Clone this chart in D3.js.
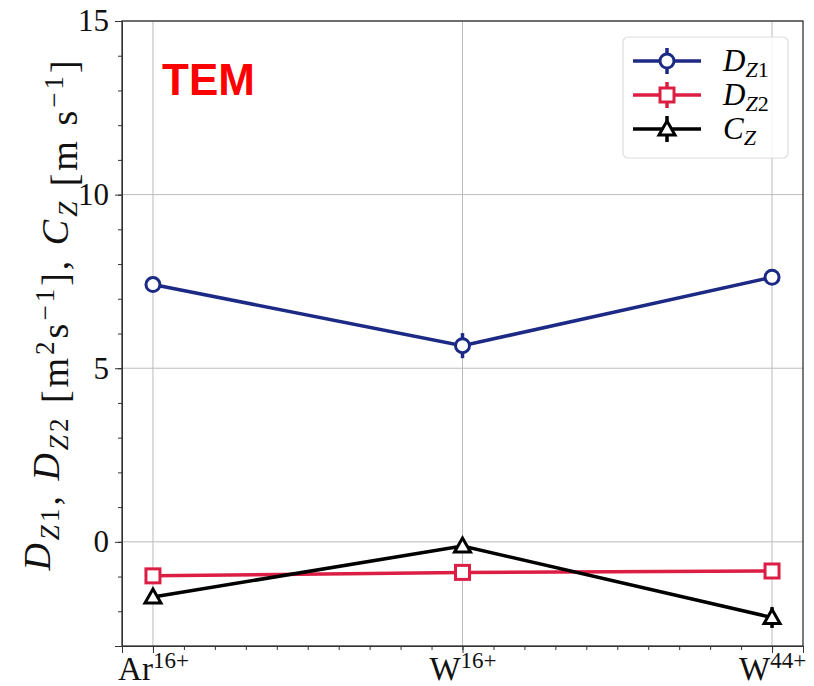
<!DOCTYPE html>
<meta charset="utf-8">
<style>
body { margin: 0; background: #fff; }
.axis path, .axis line { stroke: #333; }
.axis text { font-family: "Liberation Serif", serif; font-size: 31px; fill: #111; }
.grid line { stroke: #bbb; stroke-width: 1; }
</style>
<div id="chart"></div>
<script src="https://d3js.org/d3.v7.min.js"></script>
<script>

// ions on the x axis, with superscript charge
var ions = ["Ar", "W", "W"];
var charges = ["16+", "16+", "44+"];

var dz1 = [7.41, 5.65, 7.62];
var dz1Err = [0.15, 0.36, 0.15];
var dz2 = [-0.98, -0.88, -0.84];
var dz2Err = [0.1, 0.1, 0.1];
var cz = [-1.59, -0.12, -2.18];
var czErr = [0.2, 0.15, 0.3];

var yTicks = [0, 5, 10, 15];

var svg = d3.select("#chart").append("svg")
    .attr("width", 814)
    .attr("height", 686),
    margin = {top: 21, right: 11, bottom: 40, left: 122},
    width = 814 - margin.left - margin.right,
    height = 686 - margin.top - margin.bottom,
    g = svg.append("g").attr("transform", "translate(" + margin.left + "," + margin.top + ")");

var x = d3.scaleLinear().domain([-0.1, 2.1]).range([0, width]);
var y = d3.scaleLinear().domain([-3, 15]).range([height, 0]);

// grid
g.append("g").attr("class", "grid")
  .selectAll("line").data(d3.range(ions.length)).enter().append("line")
    .attr("x1", function(d) { return x(d); }).attr("x2", function(d) { return x(d); })
    .attr("y1", 0).attr("y2", height);
g.append("g").attr("class", "grid")
  .selectAll("line").data(yTicks).enter().append("line")
    .attr("y1", function(d) { return y(d); }).attr("y2", function(d) { return y(d); })
    .attr("x1", 0).attr("x2", width);

// minor ticks
g.append("g").attr("class", "axis")
    .attr("transform", "translate(0," + height + ")")
    .call(d3.axisBottom(x).tickValues(d3.range(-1, 22).map(function(i) { return i / 10; })).tickSize(4).tickFormat(""))
    .select(".domain").remove();
g.append("g").attr("class", "axis")
    .call(d3.axisLeft(y).tickValues(d3.range(-3, 16)).tickSize(4).tickFormat(""))
    .select(".domain").remove();

// major x axis
var xAxis = g.append("g").attr("class", "axis")
    .attr("transform", "translate(0," + height + ")")
    .call(d3.axisBottom(x).tickValues(d3.range(ions.length)).tickSize(7).tickFormat(""));
xAxis.selectAll(".tick").append("text")
    .attr("y", 34)
    .attr("text-anchor", "middle")
    .style("font-size", "33px")
    .each(function(d) {
      var t = d3.select(this);
      t.append("tspan").text(ions[d]);
      t.append("tspan").attr("dy", -12).style("font-size", "23px").text(charges[d]);
    });

g.append("g").attr("class", "axis")
    .call(d3.axisLeft(y).tickValues(yTicks).tickSize(7).tickPadding(6));

// frame
g.append("rect").attr("width", width).attr("height", height)
    .attr("fill", "none").attr("stroke", "#333").attr("stroke-width", 1.3);

var series = [
  {name: "Z1", letter: "D", vals: dz1, err: dz1Err, color: "#1c2a85", shape: "circle"},
  {name: "Z2", letter: "D", vals: dz2, err: dz2Err, color: "#dc1e45", shape: "square"},
  {name: "Z", letter: "C", vals: cz, err: czErr, color: "#000", shape: "triangle"}
];

function marker(sel, s) {
  if (s.shape === "circle") {
    sel.append("circle").attr("r", 7);
  } else if (s.shape === "square") {
    sel.append("rect").attr("x", -7).attr("y", -7).attr("width", 14).attr("height", 14);
  } else {
    sel.append("path").attr("d", "M0,-8L8,6L-8,6Z");
  }
  sel.selectAll("*").attr("fill", "#fff").attr("stroke", s.color).attr("stroke-width", 3);
}

var line = d3.line()
    .x(function(d, i) { return x(i); })
    .y(function(d) { return y(d); });

series.forEach(function(s) {
  var sg = g.append("g");
  sg.append("path").datum(s.vals)
    .attr("d", line)
    .attr("fill", "none")
    .attr("stroke", s.color)
    .attr("stroke-width", 3.5);
  sg.selectAll(".err").data(s.vals).enter().append("line")
    .attr("x1", function(d, i) { return x(i); }).attr("x2", function(d, i) { return x(i); })
    .attr("y1", function(d, i) { return y(d - s.err[i]); })
    .attr("y2", function(d, i) { return y(d + s.err[i]); })
    .attr("stroke", s.color).attr("stroke-width", 3.5);
  sg.selectAll(".pt").data(s.vals).enter().append("g")
    .attr("transform", function(d, i) { return "translate(" + x(i) + "," + y(d) + ")"; })
    .each(function() { marker(d3.select(this), s); });
});

// legend
var legend = svg.append("g").attr("transform", "translate(623,37)");
legend.append("rect").attr("width", 165).attr("height", 121).attr("rx", 5)
    .attr("fill", "#fff").attr("fill-opacity", 0.85).attr("stroke", "#ddd").attr("stroke-width", 1.2);
series.forEach(function(s, i) {
  var row = legend.append("g").attr("transform", "translate(44," + (24 + i * 34) + ")");
  row.append("line").attr("x1", -34).attr("x2", 34).attr("stroke", s.color).attr("stroke-width", 3.5);
  row.append("line").attr("y1", -13).attr("y2", 13).attr("stroke", s.color).attr("stroke-width", 3.5);
  row.append("g").each(function() { marker(d3.select(this), s); });
  var t = row.append("text").attr("x", 56).attr("y", 10)
      .style("font-family", "Liberation Serif, serif").style("font-size", "31px");
  t.append("tspan").style("font-style", "italic").text(s.letter);
  t.append("tspan").attr("dy", 6).style("font-size", "22px").style("font-style", "italic").text("Z");
  t.append("tspan").style("font-size", "22px").text(s.name.slice(1));
});

// y label
var yl = svg.append("text")
    .attr("transform", "translate(50,314) rotate(-90)")
    .attr("text-anchor", "middle")
    .style("font-family", "Liberation Serif, serif").style("font-size", "38px").style("fill", "#111");
function sub(txt) {
  yl.append("tspan").attr("dy", 9).style("font-size", "27px").style("font-style", "italic").text(txt.charAt(0));
  if (txt.length > 1) yl.append("tspan").style("font-size", "27px").text(txt.slice(1));
  yl.append("tspan").attr("dy", -9).text("");
}
yl.append("tspan").style("font-style", "italic").text("D");
sub("Z1");
yl.append("tspan").text(", ");
yl.append("tspan").style("font-style", "italic").text("D");
sub("Z2");
yl.append("tspan").text(" [m");
yl.append("tspan").attr("dy", -14).style("font-size", "27px").text("2");
yl.append("tspan").attr("dy", 14).text("s");
yl.append("tspan").attr("dy", -14).style("font-size", "27px").text("\u22121");
yl.append("tspan").attr("dy", 14).text("], ");
yl.append("tspan").style("font-style", "italic").text("C");
sub("Z");
yl.append("tspan").text(" [m s");
yl.append("tspan").attr("dy", -14).style("font-size", "27px").text("\u22121");
yl.append("tspan").attr("dy", 14).text("]");
// stretch the label to the span it has in the reference
var nChars = yl.text().length;
var len = yl.node().getComputedTextLength();
yl.style("letter-spacing", Math.max(0, Math.min(3, (568 - len) / nChars)) + "px");

// annotation
svg.append("text")
    .attr("x", 162).attr("y", 95)
    .style("font-family", "Liberation Sans, sans-serif")
    .style("font-weight", "bold").style("font-size", "44px").style("fill", "#ff0000")
    .text("TEM");

</script>
